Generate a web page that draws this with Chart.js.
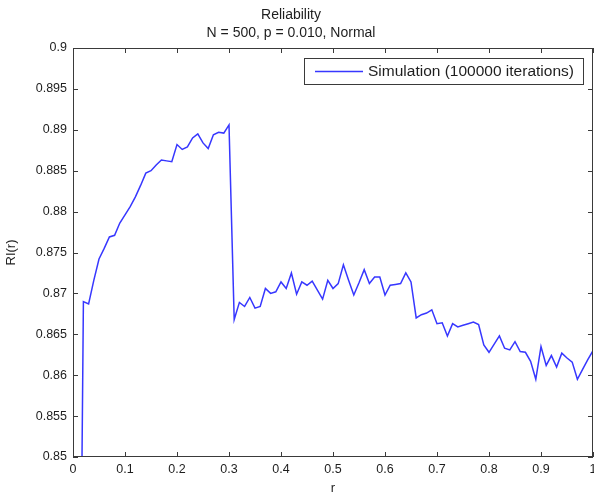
<!DOCTYPE html>
<html>
<head>
<meta charset="utf-8">
<title>Reliability</title>
<script src="https://cdn.jsdelivr.net/npm/chart.js@4.4.0/dist/chart.umd.min.js"></script>
<style>
  html, body { margin: 0; padding: 0; background: #fff; }
  #chart { display: block; }
</style>
</head>
<body>
<canvas id="chart" width="594" height="497"></canvas>
<script>
// values
const rValues = [
  0.01, 0.02, 0.03, 0.04, 0.05, 0.06, 0.07, 0.08, 0.09, 0.10,
  0.11, 0.12, 0.13, 0.14, 0.15, 0.16, 0.17, 0.18, 0.19, 0.20,
  0.21, 0.22, 0.23, 0.24, 0.25, 0.26, 0.27, 0.28, 0.29, 0.30,
  0.31, 0.32, 0.33, 0.34, 0.35, 0.36, 0.37, 0.38, 0.39, 0.40,
  0.41, 0.42, 0.43, 0.44, 0.45, 0.46, 0.47, 0.48, 0.49, 0.50,
  0.51, 0.52, 0.53, 0.54, 0.55, 0.56, 0.57, 0.58, 0.59, 0.60,
  0.61, 0.62, 0.63, 0.64, 0.65, 0.66, 0.67, 0.68, 0.69, 0.70,
  0.71, 0.72, 0.73, 0.74, 0.75, 0.76, 0.77, 0.78, 0.79, 0.80,
  0.81, 0.82, 0.83, 0.84, 0.85, 0.86, 0.87, 0.88, 0.89, 0.90,
  0.91, 0.92, 0.93, 0.94, 0.95, 0.96, 0.97, 0.98, 0.99, 1.00
];
const reliability = [
  0.7980, 0.8690, 0.8687, 0.8716, 0.8742, 0.8755, 0.8769, 0.8771, 0.8786, 0.8796,
  0.8806, 0.8818, 0.8832, 0.8847, 0.8850, 0.8857, 0.8863, 0.8862, 0.8861, 0.8882,
  0.8876, 0.8879, 0.8890, 0.8895, 0.8884, 0.8877, 0.8894, 0.8897, 0.8896, 0.8906,
  0.8668, 0.8689, 0.8684, 0.8695, 0.8682, 0.8684, 0.8706, 0.8700, 0.8702, 0.8714,
  0.8706, 0.8725, 0.8699, 0.8714, 0.8710, 0.8715, 0.8704, 0.8693, 0.8716, 0.8706,
  0.8712, 0.8735, 0.8716, 0.8698, 0.8713, 0.8729, 0.8712, 0.8720, 0.8720, 0.8698,
  0.8710, 0.8711, 0.8712, 0.8725, 0.8714, 0.8670, 0.8674, 0.8676, 0.8680, 0.8663,
  0.8664, 0.8648, 0.8663, 0.8659, 0.8661, 0.8663, 0.8665, 0.8662, 0.8637, 0.8628,
  0.8638, 0.8648, 0.8633, 0.8631, 0.8641, 0.8629, 0.8628, 0.8617, 0.8595, 0.8635,
  0.8612, 0.8624, 0.8610, 0.8627, 0.8621, 0.8616, 0.8595, 0.8607, 0.8619, 0.8630
];
const xTicks = [0, 0.1, 0.2, 0.3, 0.4, 0.5, 0.6, 0.7, 0.8, 0.9, 1];
const xTickLabels = ['0', '0.1', '0.2', '0.3', '0.4', '0.5', '0.6', '0.7', '0.8', '0.9', '1'];
const yTicks = [0.85, 0.855, 0.86, 0.865, 0.87, 0.875, 0.88, 0.885, 0.89, 0.895, 0.9];
const yTickLabels = ['0.85', '0.855', '0.86', '0.865', '0.87', '0.875', '0.88', '0.885', '0.89', '0.895', '0.9'];
const titleLines = ['Reliability', 'N = 500, p = 0.010, Normal'];
const seriesLabel = 'Simulation (100000 iterations)';

const FONT = "'Liberation Sans', Arial, Helvetica, sans-serif";
const AXIS_COLOR = '#3a3a3a';
const TEXT_COLOR = '#1e1e1e';
const LINE_COLOR = 'rgb(55, 55, 255)';

// matlab style box with inward ticks, title on top and legend in the corner
const matlabFrame = {
  id: 'matlabFrame',
  afterDatasetsDraw(chart) {
    const { ctx, chartArea: a, scales: { x, y } } = chart;
    const tick = 5;
    ctx.save();
    ctx.strokeStyle = AXIS_COLOR;
    ctx.lineWidth = 1;
    ctx.strokeRect(a.left + 0.5, a.top + 0.5, a.right - a.left - 1, a.bottom - a.top - 1);

    ctx.beginPath();
    xTicks.forEach(v => {
      const px = Math.round(x.getPixelForValue(v)) + 0.5;
      ctx.moveTo(px, a.top); ctx.lineTo(px, a.top + tick);
      ctx.moveTo(px, a.bottom); ctx.lineTo(px, a.bottom - tick);
    });
    yTicks.forEach(v => {
      const py = Math.round(y.getPixelForValue(v)) + 0.5;
      ctx.moveTo(a.left, py); ctx.lineTo(a.left + tick, py);
      ctx.moveTo(a.right, py); ctx.lineTo(a.right - tick, py);
    });
    ctx.stroke();

    // title
    ctx.fillStyle = TEXT_COLOR;
    ctx.font = '14px ' + FONT;
    ctx.textAlign = 'center';
    ctx.textBaseline = 'middle';
    ctx.fillText(titleLines[0], 291, 15);
    ctx.fillText(titleLines[1], 291, 33);

    // legend box
    const lx = 304, ly = 58, lw = 279, lh = 26;
    ctx.fillStyle = '#fff';
    ctx.fillRect(lx, ly, lw, lh);
    ctx.strokeStyle = AXIS_COLOR;
    ctx.strokeRect(lx + 0.5, ly + 0.5, lw, lh);
    ctx.strokeStyle = LINE_COLOR;
    ctx.lineWidth = 1.5;
    ctx.beginPath();
    ctx.moveTo(315, ly + 13.5);
    ctx.lineTo(363, ly + 13.5);
    ctx.stroke();
    ctx.fillStyle = TEXT_COLOR;
    ctx.font = '15.5px ' + FONT;
    ctx.textAlign = 'left';
    ctx.fillText(chart.data.datasets[0].label, 368, ly + 14);
    ctx.restore();
  }
};

const ctx = document.getElementById('chart').getContext('2d');

new Chart(ctx, {
  type: 'line',
  data: {
    datasets: [{
      label: seriesLabel,
      data: rValues.map((r, i) => ({ x: r, y: reliability[i] })),
      borderColor: LINE_COLOR,
      borderWidth: 1.5,
      pointRadius: 0,
      tension: 0,
      fill: false
    }]
  },
  options: {
    responsive: false,
    animation: false,
    layout: { padding: { top: 48, right: 1, left: 0, bottom: 0 } },
    plugins: {
      legend: { display: false },
      tooltip: { enabled: false },
      title: { display: false }
    },
    scales: {
      x: {
        type: 'linear',
        min: 0,
        max: 1,
        grid: { display: false, drawTicks: false },
        border: { display: false },
        afterBuildTicks: s => { s.ticks = xTicks.map(v => ({ value: v })); },
        afterFit: s => { s.height = 40; s.paddingLeft = 0; s.paddingRight = 0; },
        ticks: {
          autoSkip: false,
          maxRotation: 0,
          padding: 5,
          color: TEXT_COLOR,
          font: { family: FONT, size: 12.5 },
          callback: (v, i) => xTickLabels[i]
        },
        title: {
          display: true,
          text: 'r',
          color: TEXT_COLOR,
          font: { family: FONT, size: 13 },
          padding: { top: 0, bottom: 1 }
        }
      },
      y: {
        type: 'linear',
        min: 0.85,
        max: 0.9,
        grid: { display: false, drawTicks: false },
        border: { display: false },
        afterBuildTicks: s => { s.ticks = yTicks.map(v => ({ value: v })); },
        afterFit: s => { s.width = 73; s.paddingTop = 0; s.paddingBottom = 0; },
        ticks: {
          autoSkip: false,
          padding: 6,
          color: TEXT_COLOR,
          font: { family: FONT, size: 12.5 },
          callback: (v, i) => yTickLabels[i]
        },
        title: {
          display: true,
          text: 'RI(r)',
          color: TEXT_COLOR,
          font: { family: FONT, size: 13 },
          padding: { top: 4, bottom: 0 }
        }
      }
    }
  },
  plugins: [matlabFrame]
});
</script>
</body>
</html>
